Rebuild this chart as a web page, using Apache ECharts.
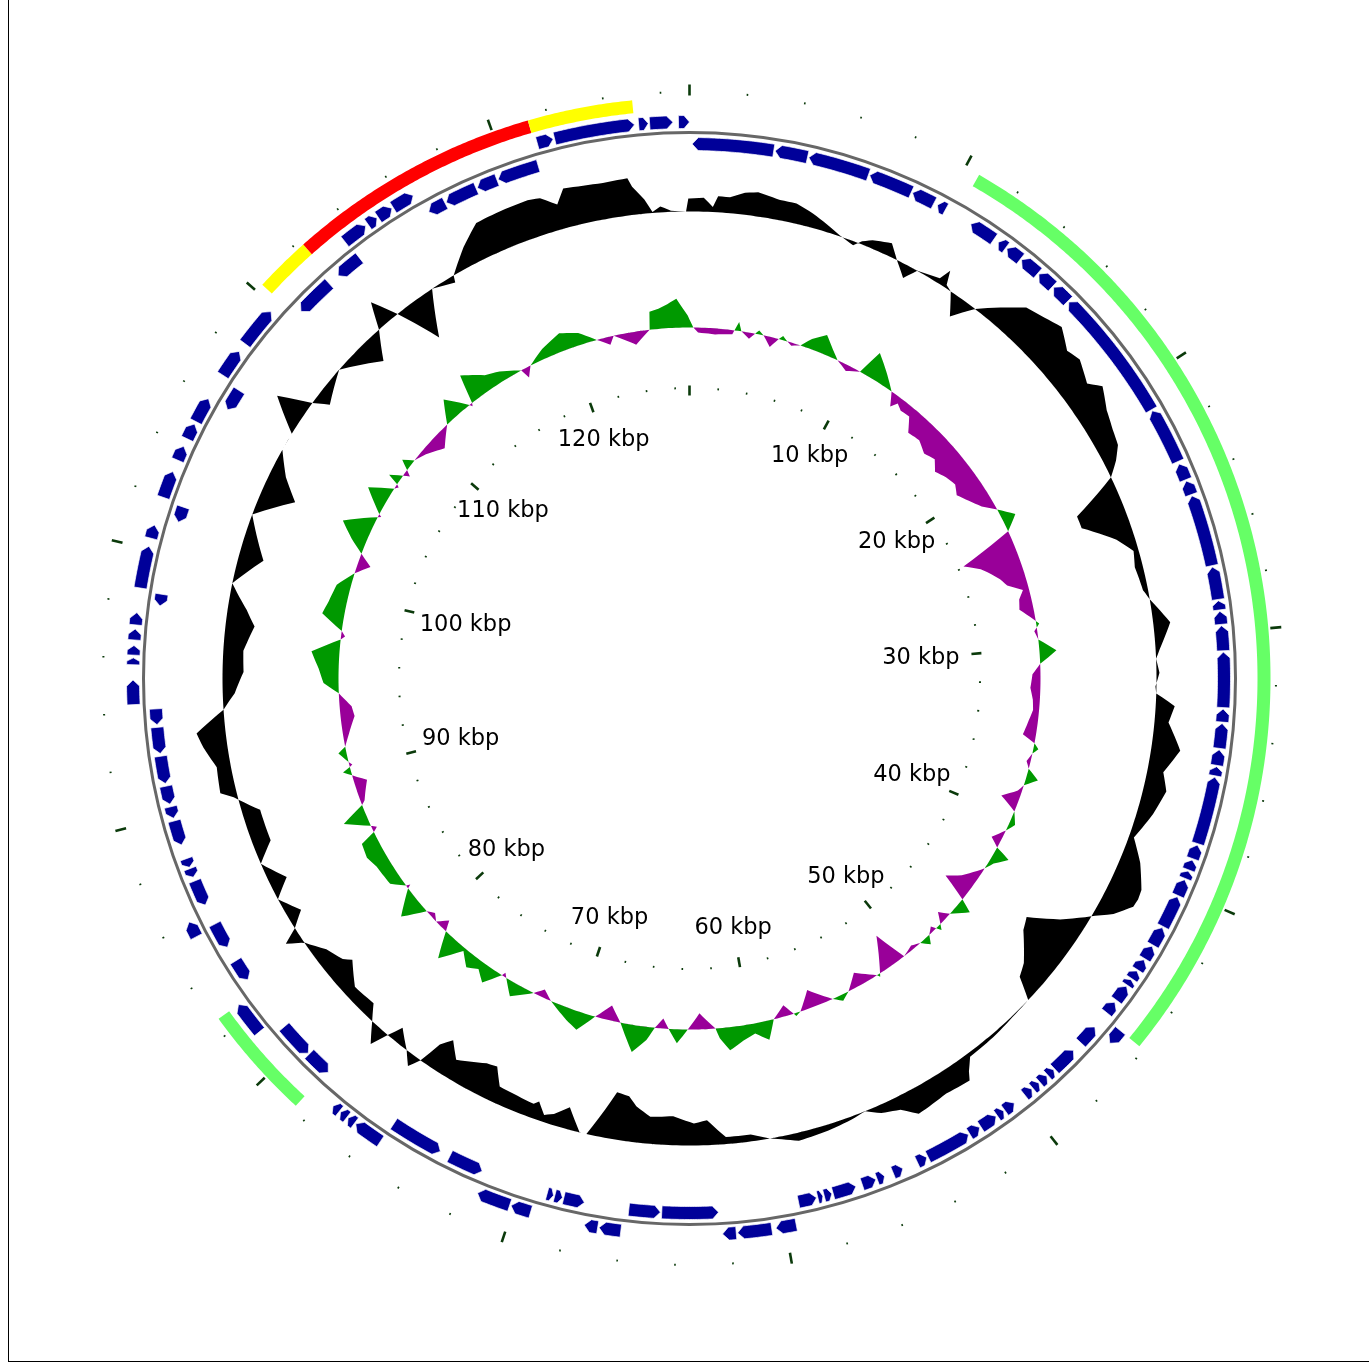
<!DOCTYPE html>
<html>
<head>
<meta charset="utf-8">
<title>Genome map</title>
<script src="https://cdn.jsdelivr.net/npm/echarts@6/dist/echarts.min.js"></script>
<style>
  html, body { margin: 0; padding: 0; background: #fff; }
  #map { position: absolute; left: 0; top: 0; width: 1369px; height: 1365px; }
  #frame { position: absolute; left: 8px; top: -2px; width: 1370px; height: 1362px; border: 1px solid #000; pointer-events: none; }
</style>
</head>
<body>
<div id="map"></div>
<div id="frame"></div>
<script>
// genome length (kbp)
var genomeKbp = 127;

// scale ticks / labels
var majorTicks = [0, 10, 20, 30, 40, 50, 60, 70, 80, 90, 100, 110, 120];
var minorTicks = [2, 4, 6, 8, 12, 14, 16, 18, 22, 24, 26, 28, 32, 34, 36, 38, 42, 44, 46, 48,
                  52, 54, 56, 58, 62, 64, 66, 68, 72, 74, 76, 78, 82, 84, 86, 88, 92, 94, 96, 98,
                  102, 104, 106, 108, 112, 114, 116, 118, 122, 124, 126];
var labelPos = [10, 20, 30, 40, 50, 60, 70, 80, 90, 100, 110, 120];
var labelText = ['10 kbp', '20 kbp', '30 kbp', '40 kbp', '50 kbp', '60 kbp', '70 kbp',
                 '80 kbp', '90 kbp', '100 kbp', '110 kbp', '120 kbp'];

// CDS on the forward strand [start, end] (kbp)
var fwdGenes = [
  [45.6, 46.2], [59.6, 60.35], [60.5, 61.75], [61.8, 62.3], [66.0, 66.8], [66.85, 67.35],
  [69.35, 70.1], [70.15, 71.4], [75.4, 76.5], [76.55, 76.85], [76.9, 77.2], [77.25, 77.55],
  [81.35, 82.6], [85.5, 86.1], [94.3, 95.2], [95.75, 96.0], [96.1, 96.45], [96.65, 97.05],
  [97.2, 97.65], [98.55, 100.1], [100.4, 100.9], [101.95, 102.95], [103.4, 103.95],
  [104.25, 104.85], [104.95, 105.9], [106.9, 107.95], [108.3, 109.8], [113.5, 114.45],
  [114.55, 114.95], [115.0, 115.6], [115.65, 116.5], [121.4, 122.0], [122.05, 125.0],
  [125.15, 125.5], [125.55, 126.4], [126.6, 127.0]
];

// CDS on the reverse strand [start, end] (kbp)
var revGenes = [
  [0.1, 3.2], [3.25, 4.5], [4.55, 6.9], [6.95, 8.65], [8.7, 9.6], [9.75, 10.1],
  [11.2, 12.25], [12.45, 12.8], [12.85, 13.5], [13.55, 14.35], [14.4, 15.1], [15.15, 15.9],
  [15.95, 21.1], [21.15, 23.3], [23.4, 24.05], [24.1, 24.65], [24.7, 27.45], [27.5, 28.75],
  [28.8, 29.15], [29.2, 29.7], [29.75, 30.7], [30.75, 32.85], [32.9, 33.4], [33.45, 34.4],
  [34.45, 35.05], [35.1, 35.45], [35.5, 38.1], [38.15, 38.7], [38.75, 39.15], [39.2, 39.5],
  [39.55, 40.2], [40.25, 41.5], [41.55, 42.3], [42.35, 42.9], [42.95, 43.4], [43.45, 43.8],
  [43.85, 44.1], [44.15, 44.8], [44.9, 45.4], [46.1, 46.9], [47.3, 48.3], [48.35, 48.65],
  [48.7, 49.05], [49.1, 49.4], [49.45, 49.8], [50.3, 50.75], [50.8, 51.1], [51.15, 51.85],
  [51.9, 52.35], [52.4, 54.15], [54.2, 54.6], [55.2, 55.6], [55.95, 56.25], [56.3, 56.85],
  [57.1, 58.0], [58.05, 58.35], [58.4, 58.6], [58.65, 59.35], [62.4, 64.55], [64.6, 65.8],
  [67.5, 68.3], [68.35, 68.65], [68.7, 68.95], [71.55, 72.9], [73.3, 75.35], [78.5, 79.5],
  [79.55, 80.9], [83.15, 84.0], [84.6, 85.6], [86.4, 87.4], [87.55, 87.9], [87.95, 88.3],
  [88.85, 89.8], [89.9, 90.35], [90.45, 91.15], [91.25, 92.3], [92.4, 93.4], [93.5, 94.1],
  [98.0, 98.45], [101.25, 101.85], [105.9, 106.75], [110.55, 112.05], [112.5, 113.55],
  [116.7, 117.4], [117.45, 118.7], [118.75, 119.55], [119.6, 121.2]
];

// highlighted regions [start, end] and their kind
var regions = [[10.55, 45.6], [78.55, 82.6], [110.3, 112.3], [112.3, 121.3], [121.3, 125.0]];
var regionKind = ['island', 'island', 'flank', 'core', 'flank'];

// GC content deviation from the mean (position kbp / deviation)
var gcPos = [0, 0.6, 1.0, 1.2, 1.7, 2.3, 2.84, 3.3, 3.78, 4.48, 5.26, 6.1, 6.6, 7.3, 7.6, 8.0, 8.8,
  9.3, 9.9, 10.3, 10.9, 11.3, 11.5, 11.7, 12.0, 12.6, 13.3, 14.1, 14.9, 15.7, 16.45, 17.3, 17.9,
  18.85, 19.3, 20.2, 21.0, 21.66, 22.2, 22.75, 23.75, 24.35, 25.4, 26.1, 26.8, 27.86, 28.3, 29.4,
  30.5, 30.9, 31.5, 32.1, 32.4, 32.9, 33.6, 34.7, 35.7, 36.45, 37.5, 38.7, 39.6, 40.6, 41.0, 41.35,
  42.0, 42.45, 43.4, 44.2, 44.8, 46.0, 46.6, 47.1, 48.1, 49.3, 50.6, 51.0, 51.2, 52.3, 53.0, 53.7,
  54.3, 55.1, 55.7, 56.4, 57.5, 58.8, 59.5, 60.0, 60.8, 61.9, 62.7, 63.3, 64.25, 65.3, 66.0, 66.4,
  67.0, 68.0, 68.3, 69.0, 69.6, 70.0, 70.4, 70.6, 71.6, 72.3, 72.8, 73.3, 74.6, 75.2, 75.6, 75.9,
  76.2, 76.65, 77.4, 77.7, 78.0, 78.6, 79.1, 80.2, 81.2, 81.5, 82.3, 83.1, 83.5, 83.85, 84.4, 85.3,
  86.0, 87.0, 87.8, 89.25, 90.1, 90.4, 91.5, 92.4, 93.0, 93.9, 94.6, 95.55, 96.5, 97.65, 98.35,
  99.4, 100.7, 102.5, 103.75, 104.6, 105.6, 106.4, 107.4, 108.0, 108.4, 109.85, 111.5, 112.3,
  112.8, 113.35, 114.2, 115.2, 116.2, 116.3, 117.25, 118.15, 119.05, 120.4, 120.9, 121.5, 121.9,
  122.7, 123.5, 124.5, 124.65, 125.1, 125.4, 125.75, 126.2, 126.85, 126.95, 127];
var gcVal = [13, 14, 5, 16, 16, 22, 24, 22, 20, 20, 14, 6, 1, -4, 3, 8, 13,
  0, -13, 0, 3, 5, 17, 3, 0, -21, 0, 17, 34, 39, 45, 33, 37,
  28, 39, 29, 24, 21, 12, 0, -47, -47, -18, -5, -8, -5, 0, 17,
  4, 0, 3, -1, 0, 19, 14, 29, 16, 23, 16, 5, 20, 32, 33, 32,
  18, 3, -25, -54, -49, -28, -22, 0, 1, 3, 4, 15, 23, 21, 23, 25,
  13, 8, 0, 3, 6, 8, 3, 0, -7, -7, -25, -22, -29, -27, -36, -45,
  -47, 0, 0, -22, -11, -7, -18, -14, -16, -17, -34, -32, -20, -35, -24, 0,
  12, 0, -15, 0, 18, 0, -14, -12, -28, -21, -14, 0, 16, 0, -15, 0,
  -18, 0, -18, -18, 4, 16, 14, 24, 29, 0, -12, -21, -20, -29, -19,
  0, -25, 0, -35, -16, 0, 0, 33, 0, -15, 0, -26, 0,
  26, 0, -44, 0, -7, 0, 20, 36, 37, 38, 36, 25, 39,
  37, 36, 37, 28, 14, 1, 6, 1, 0, 13, 13];

// GC skew (position kbp / skew)
var skewPos = [0, 0.22, 0.5, 1.5, 2.5, 2.8, 3.0, 3.5, 4.0, 4.3, 4.8, 5.2, 5.4, 5.7, 6.0, 6.5, 7.0, 7.7,
  8.3, 8.8, 9.5, 10.25, 10.7, 11.5, 12.4, 12.85, 13.1, 13.5, 14.1, 14.7, 15.5, 16.3, 17.0, 17.6,
  18.3, 19.0, 19.6, 20.3, 21.0, 21.6, 22.3, 23.0, 23.9, 24.5, 25.0, 25.5, 26.0, 26.5, 27.0, 27.6,
  28.3, 28.6, 29.0, 29.5, 30.2, 30.9, 31.5, 32.3, 33.0, 33.6, 34.2, 35.1, 35.5, 35.8, 36.1, 36.6,
  37.0, 37.5, 38.0, 38.4, 39.0, 39.6, 40.3, 40.8, 41.5, 41.9, 42.2, 42.8, 43.3, 44.4, 45.0, 45.5,
  45.8, 46.6, 47.0, 47.4, 47.6, 47.9, 48.3, 48.6, 49.0, 49.5, 50.2, 50.8, 51.9, 52.0, 52.1, 53.2,
  54.0, 54.5, 55.0, 55.2, 56.2, 57.0, 57.3, 57.4, 57.85, 58.6, 59.1, 59.8, 60.5, 61.3, 61.8, 62.0,
  62.9, 63.6, 64.2, 64.7, 65.05, 65.5, 65.9, 66.6, 67.5, 68.2, 69.0, 69.8, 70.5, 71.7, 72.3, 72.8,
  73.9, 74.6, 74.8, 74.9, 75.6, 76.2, 76.8, 77.5, 78.3, 79.0, 79.3, 79.8, 80.2, 80.6, 81.3, 82.3,
  82.4, 82.5, 83.1, 84.3, 85.0, 85.8, 86.1, 86.3, 86.5, 87.2, 87.8, 88.0, 88.5, 89.1, 89.6, 89.9,
  90.1, 90.2, 90.4, 91.0, 91.3, 92.0, 93.0, 93.6, 94.4, 95.0, 95.8, 96.7, 97.5, 97.7, 98.0, 98.8,
  99.5, 100.5, 101.4, 102.05, 102.6, 103.2, 103.9, 104.9, 105.0, 105.1, 106.1, 106.8, 107.0,
  107.1, 107.3, 107.7, 107.9, 108.1, 108.4, 108.8, 109.5, 110.5, 111.6, 112.4, 113.3, 113.4,
  113.5, 113.9, 115.0, 115.8, 116.9, 117.1, 117.5, 118.5, 119.7, 120.7, 121.6, 122.3, 122.6,
  123.8, 124.7, 124.8, 125.3, 125.8, 126.3, 126.6, 126.9, 127];
var skewVal = [8, 0, -5, -6, -4, 9, 0, -6, 4, 0, -10, 0, 4, 0, -3, 0, 10, 19,
  8, 0, -6, 0, 26, 14, 0, -13, -6, -10, -9, -22, -20, -26, -22, -30,
  -25, -22, -27, -20, -12, 0, 14, 0, -55, -40, -32, -25, -20, -6, -12, -14,
  -2, 3, -3, 0, 17, 0, -8, -10, -7, -6, -9, -13, 0, 5, 0, -4,
  0, 12, 0, -4, -18, 0, 6, 0, -10, 0, 16, 5, 0, -15, -28, 0,
  14, 0, -10, 0, 5, -5, 0, 8, 0, -4, 0, -33, 0, 3, 0, -14,
  0, 6, 0, -3, -18, 0, 3, 0, -11, 0, 19, 10, 15, 23, 10, 0,
  -16, 0, 14, 0, -10, 0, 13, 27, 0, -15, 0, 18, 12, 0, -8, 0,
  14, 0, -4, 0, 17, 8, 14, 3, 25, 0, -10, 0, -5, 0, 23, 0,
  -4, 0, 12, 14, 18, 16, 0, -5, 0, 24, 0, -4, -8, -13, 0, 8,
  0, -3, 0, 8, 0, -6, -14, -12, 0, 15, 20, 28, 0, -4, 0, 22,
  18, 14, 0, -13, 0, 15, 30, 0, -3, 0, 23, 0, -3,
  0, 12, 0, -6, 0, 10, 0, -5, -15, 0, 21, 0, -3,
  0, 29, 15, 10, 0, -10, 0, 10, 18, 12, 0, -8, 0,
  -13, 0, 18, 20, 24, 29, 20, 12, 8];

// track radii (radius axis units = px)
var R = {
  band: [568, 581], fwd: [550, 563], backbone: 546, rev: [528, 541],
  gc: 467, skew: 351, tickOut: [583, 594], tickOutMinor: [585.5, 587.5],
  tickIn: [283, 293], tickInMinor: [289.5, 291.5], label: 272
};
var kindColor = { island: '#66ff66', flank: '#ffff00', core: '#ff0000' };
var tickColor = '#0b3a0b';

function arcPts(api, r, k0, k1, step) {
  var n = Math.max(1, Math.ceil(Math.abs(k1 - k0) / step));
  var out = [];
  for (var i = 0; i <= n; i++) out.push(api.coord([r, k0 + (k1 - k0) * i / n]));
  return out;
}

// band polygon for a track plotted around a baseline (sgn > 0 outward part, sgn < 0 inward part)
function bandPolygon(api, pos, val, r0, sgn) {
  var pts = [];
  function add(p, v) {
    var c = sgn > 0 ? Math.max(v, 0) : Math.min(v, 0);
    pts.push(api.coord([r0 + c, p]));
  }
  for (var i = 0; i < pos.length - 1; i++) {
    var p0 = pos[i], p1 = pos[i + 1], v0 = val[i], v1 = val[i + 1];
    var cuts = [[p0, v0]];
    if (v0 * v1 < 0) cuts.push([p0 + (p1 - p0) * v0 / (v0 - v1), 0]);
    cuts.push([p1, v1]);
    for (var j = 0; j < cuts.length - 1; j++) {
      var a = cuts[j], b = cuts[j + 1];
      var n = Math.max(1, Math.ceil((b[0] - a[0]) / 0.2));
      for (var k = 0; k < n; k++) {
        var t = k / n;
        add(a[0] + (b[0] - a[0]) * t, a[1] + (b[1] - a[1]) * t);
      }
    }
  }
  add(pos[pos.length - 1], val[val.length - 1]);
  return pts.concat(arcPts(api, r0, pos[pos.length - 1], pos[0], 0.2));
}

function geneRender(r, dir) {
  return function (params, api) {
    var s = api.value(0), e = api.value(1);
    var tip = Math.min(0.23, (e - s) * 0.5);
    var rm = (r[0] + r[1]) / 2;
    var p;
    if (dir > 0) {
      p = arcPts(api, r[1], s, e - tip, 0.1)
        .concat([api.coord([rm, e])], arcPts(api, r[0], e - tip, s, 0.1));
    } else {
      p = [api.coord([rm, s])]
        .concat(arcPts(api, r[1], s + tip, e, 0.1), arcPts(api, r[0], e, s + tip, 0.1));
    }
    return { type: 'polygon', shape: { points: p },
      style: { fill: '#000099', stroke: '#ffffff', lineWidth: 0.7 } };
  };
}

function tickRender(r, width) {
  return function (params, api) {
    var k = api.value(0);
    var a = api.coord([r[0], k]), b = api.coord([r[1], k]);
    return { type: 'line', shape: { x1: a[0], y1: a[1], x2: b[0], y2: b[1] },
      style: { stroke: tickColor, lineWidth: width } };
  };
}

function series(name, data, render, z) {
  return { name: name, type: 'custom', coordinateSystem: 'polar', polarIndex: 0,
    data: data, renderItem: render, silent: true, z: z, animation: false };
}

var one = [[0, 0]];
var chart = echarts.init(document.getElementById('map'));

var option = {
  animation: false,
  backgroundColor: '#ffffff',
  polar: { center: [689.5, 678.5], radius: 600 },
  angleAxis: { type: 'value', min: 0, max: genomeKbp, startAngle: 90, clockwise: true, show: false },
  radiusAxis: { type: 'value', min: 0, max: 600, show: false },
  series: [
    series('GC content', one, function (params, api) {
      return { type: 'group', children: [
        { type: 'polygon', shape: { points: bandPolygon(api, gcPos, gcVal, R.gc, 1) }, style: { fill: '#000000' } },
        { type: 'polygon', shape: { points: bandPolygon(api, gcPos, gcVal, R.gc, -1) }, style: { fill: '#000000' } }
      ] };
    }, 1),
    series('GC skew', one, function (params, api) {
      return { type: 'group', children: [
        { type: 'polygon', shape: { points: bandPolygon(api, skewPos, skewVal, R.skew, 1) }, style: { fill: '#009900' } },
        { type: 'polygon', shape: { points: bandPolygon(api, skewPos, skewVal, R.skew, -1) }, style: { fill: '#990099' } }
      ] };
    }, 1),
    series('backbone', one, function (params, api) {
      var c = api.coord([0, 0]), q = api.coord([R.backbone, 0]);
      var rr = Math.sqrt(Math.pow(q[0] - c[0], 2) + Math.pow(q[1] - c[1], 2));
      return { type: 'circle', shape: { cx: c[0], cy: c[1], r: rr },
        style: { fill: 'none', stroke: '#676767', lineWidth: 3 } };
    }, 2),
    series('CDS +', fwdGenes, geneRender(R.fwd, 1), 3),
    series('CDS -', revGenes, geneRender(R.rev, -1), 3),
    series('regions', regions.map(function (d, i) { return [d[0], d[1], i]; }), function (params, api) {
      var s = api.value(0), e = api.value(1), kind = regionKind[api.value(2)];
      var p = arcPts(api, R.band[1], s, e, 0.1).concat(arcPts(api, R.band[0], e, s, 0.1));
      return { type: 'polygon', shape: { points: p }, style: { fill: kindColor[kind] } };
    }, 3),
    series('outer major ticks', majorTicks.map(function (k) { return [k, 0]; }), tickRender(R.tickOut, 2.6), 4),
    series('outer minor ticks', minorTicks.map(function (k) { return [k, 0]; }), tickRender(R.tickOutMinor, 1.6), 4),
    series('inner major ticks', majorTicks.map(function (k) { return [k, 0]; }), tickRender(R.tickIn, 2.6), 4),
    series('inner minor ticks', minorTicks.map(function (k) { return [k, 0]; }), tickRender(R.tickInMinor, 1.6), 4),
    series('labels', labelPos.map(function (k, i) { return [k, i]; }), function (params, api) {
      var k = api.value(0), txt = labelText[api.value(1)];
      var th = k / genomeKbp * 2 * Math.PI;
      var digits = txt.replace(/[^0-9]/g, '').length;
      var halfW = (digits * 14.3 + 48) / 2;
      var pull = 19 + Math.pow(Math.abs(Math.sin(th)), 8) * (halfW - 17);
      var c = api.coord([R.label - pull, k]);
      return { type: 'text', x: c[0], y: c[1],
        style: { text: txt, fill: '#000000', fontSize: 22.5, fontFamily: 'DejaVu Sans',
          align: 'center', verticalAlign: 'middle', textAlign: 'center', textVerticalAlign: 'middle' } };
    }, 5)
  ]
};
chart.setOption(option);
</script>
</body>
</html>
